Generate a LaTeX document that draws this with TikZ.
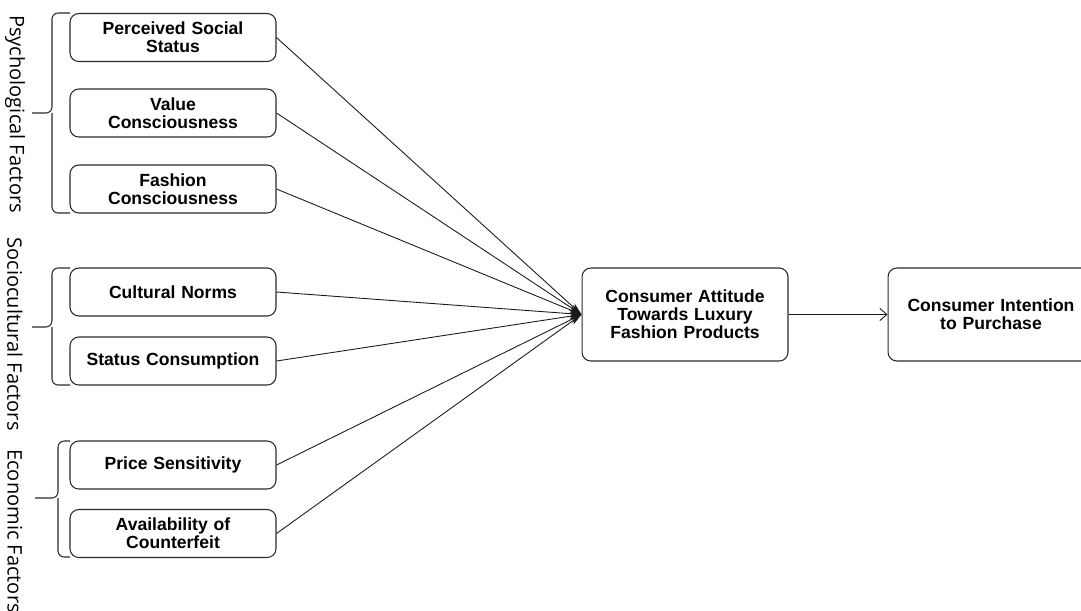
\documentclass[tikz,border=0pt]{standalone}
\usepackage{fontspec}
\usepackage{xcolor}
\usetikzlibrary{arrows.meta}
\setmainfont{Liberation Sans}
\newfontfamily\sidefont{Open Sans}
\definecolor{lineColor}{HTML}{1A1A1A}
\definecolor{boxColor}{HTML}{2B2B2B}

\tikzset{
  factorBox/.style={draw=boxColor, rounded corners=5pt, line width=0.6pt,
    minimum width=4.12cm, minimum height=0.96cm, text width=3.95cm, align=center,
    font=\bfseries\fontsize{10}{10.2}\selectfont, inner sep=1pt},
  mainBox/.style={factorBox, minimum height=1.86cm},
  linkArrow/.style={draw=lineColor, line width=0.5pt, -{Stealth[length=7pt,width=4pt]}},
  groupBrace/.style={draw=boxColor, line width=0.6pt, rounded corners=3.5pt},
  groupLabel/.style={rotate=-90, font=\sidefont\fontsize{11.4}{13}\selectfont, inner sep=0pt}
}

\begin{document}
\begin{tikzpicture}[x=0.02cm, y=-0.02cm]
				\useasboundingbox (0,0) rectangle (1081,610);
				\clip (0,0) rectangle (1081,610);

				% factor boxes
				\node[factorBox] (pss) at (173,37.5) {Perceived Social\\Status};
				\node[factorBox] (vc)  at (173,113) {Value\\Consciousness};
				\node[factorBox] (fc)  at (173,189) {Fashion\\Consciousness};
				\node[factorBox] (cn)  at (173,292) {Cultural Norms};
				\node[factorBox] (sc)  at (173,361) {Status Consumption};
				\node[factorBox] (ps)  at (173,465) {Price Sensitivity};
				\node[factorBox] (ac)  at (173,533.5) {Availability of\\Counterfeit};

				% outcome boxes
				\node[mainBox] (cat) at (685,314.5) {Consumer Attitude\\Towards Luxury\\Fashion Products};
				\node[mainBox] (cip) at (991,314.5) {Consumer Intention\\to Purchase};

				% group braces
				\draw[groupBrace] (70,13) -| (52,113) -- (32,113);
				\draw[groupBrace] (70,213) -| (52,113);
				\draw[groupBrace] (70,268) -| (52,327) -- (32,327);
				\draw[groupBrace] (70,385) -| (52,327);
				\draw[groupBrace] (70,441) -| (58,498) -- (35,498);
				\draw[groupBrace] (70,557) -| (58,498);

				\node[groupLabel] (psy) at (15,114) {Psychological Factors};
				\node[groupLabel] (soc) at (15,334) {Sociocultural Factors};
				\node[groupLabel] (eco) at (15,531) {Economic Factors};

				% links
				\foreach \src in {pss,vc,fc,cn,sc,ps,ac}
					\draw[linkArrow] (\src.east) -- (cat.west);
				\draw[draw=lineColor, line width=0.5pt, -{Straight Barb[length=4pt,width=7pt]}] (cat.east) -- (cip.west);
			\end{tikzpicture}
\end{document}
